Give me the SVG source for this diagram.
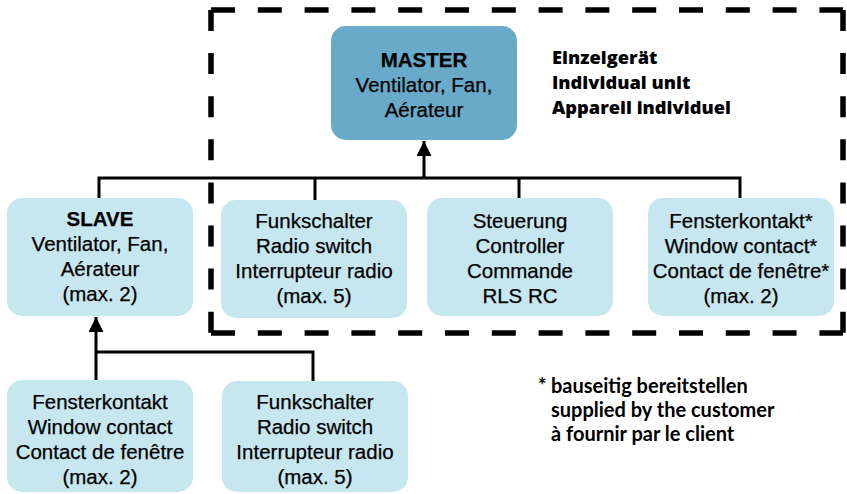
<svg xmlns="http://www.w3.org/2000/svg" width="847" height="494" viewBox="0 0 847 494">
<style>
.box{fill:#c6e7f0}
.master{fill:#69a9c9}
.t{font-family:"Liberation Sans",Arial,sans-serif;font-size:20.5px;fill:#000;text-anchor:middle;stroke:#000;stroke-width:0.25}
.b{font-weight:bold}
.note{font-family:"Open Sans","Liberation Sans",sans-serif;font-weight:800;font-size:18.3px;fill:#000}
.foot{font-family:Lato,"Liberation Sans",sans-serif;font-weight:bold;font-size:20px;fill:#000}
.ln{stroke:#000;stroke-width:3;fill:none}
.dh{stroke:#000;stroke-width:5.5;fill:none;stroke-dasharray:24 22.8}
.dv{stroke:#000;stroke-width:5.5;fill:none;stroke-dasharray:21 22.1}
</style>
<defs>
<marker id="ah" viewBox="0 0 10 10" refX="10" refY="5" markerWidth="5" markerHeight="5" orient="auto" markerUnits="strokeWidth">
<path d="M0,0 L10,5 L0,10 Z" fill="#000"/>
</marker>
</defs>
<g id="frame">
<line class="dh" x1="211" y1="10" x2="843" y2="10"/>
<line class="dh" x1="211" y1="333" x2="843" y2="333"/>
<line class="dv" x1="211" y1="10" x2="211" y2="333"/>
<line class="dv" x1="843" y1="10" x2="843" y2="333"/>
</g>
<g id="connectors">
<polyline class="ln" points="99,198 99,178 740,178 740,198"/>
<line class="ln" x1="315" y1="178" x2="315" y2="200"/>
<line class="ln" x1="519" y1="178" x2="519" y2="198"/>
<line class="ln" x1="424" y1="178" x2="424" y2="141" marker-end="url(#ah)"/>
<line class="ln" x1="96" y1="380" x2="96" y2="317" marker-end="url(#ah)"/>
<polyline class="ln" points="96,352 313,352 313,381"/>
</g>
<g id="master">
<rect class="master" x="331" y="26" width="186" height="114" rx="15"/>
<text class="t b" x="424" y="67">MASTER</text>
<text class="t" x="424" y="92">Ventilator, Fan,</text>
<text class="t" x="424" y="117">Aérateur</text>
</g>
<g id="label">
<text class="note" x="552" y="64">Einzelgerät</text>
<text class="note" x="552" y="89">Individual unit</text>
<text class="note" x="552" y="114">Appareil individuel</text>
</g>
<g id="slave">
<rect class="box" x="7" y="198" width="186" height="118" rx="15"/>
<text class="t b" x="100" y="226">SLAVE</text>
<text class="t" x="100" y="251">Ventilator, Fan,</text>
<text class="t" x="100" y="276">Aérateur</text>
<text class="t" x="100" y="301">(max. 2)</text>
</g>
<g id="funk1">
<rect class="box" x="221" y="200" width="186" height="118" rx="15"/>
<text class="t" x="314" y="228">Funkschalter</text>
<text class="t" x="314" y="253">Radio switch</text>
<text class="t" x="314" y="278">Interrupteur radio</text>
<text class="t" x="314" y="303">(max. 5)</text>
</g>
<g id="steuerung">
<rect class="box" x="427" y="198" width="186" height="118" rx="15"/>
<text class="t" x="520" y="228">Steuerung</text>
<text class="t" x="520" y="253">Controller</text>
<text class="t" x="520" y="278">Commande</text>
<text class="t" x="520" y="303">RLS RC</text>
</g>
<g id="fenster1">
<rect class="box" x="648" y="198" width="186" height="118" rx="15"/>
<text class="t" x="741" y="228">Fensterkontakt*</text>
<text class="t" x="741" y="253">Window contact*</text>
<text class="t" x="741" y="278">Contact de fenêtre*</text>
<text class="t" x="741" y="303">(max. 2)</text>
</g>
<g id="fenster2">
<rect class="box" x="7" y="380" width="186" height="112" rx="15"/>
<text class="t" x="100" y="409">Fensterkontakt</text>
<text class="t" x="100" y="434">Window contact</text>
<text class="t" x="100" y="459">Contact de fenêtre</text>
<text class="t" x="100" y="484">(max. 2)</text>
</g>
<g id="funk2">
<rect class="box" x="222" y="381" width="186" height="111" rx="15"/>
<text class="t" x="315" y="409">Funkschalter</text>
<text class="t" x="315" y="434">Radio switch</text>
<text class="t" x="315" y="459">Interrupteur radio</text>
<text class="t" x="315" y="484">(max. 5)</text>
</g>
<g id="footnote">
<text class="foot" x="538" y="393">*</text>
<text class="foot" x="551" y="393">bauseitig bereitstellen</text>
<text class="foot" x="551" y="417">supplied by the customer</text>
<text class="foot" x="551" y="441">à fournir par le client</text>
</g>
</svg>
